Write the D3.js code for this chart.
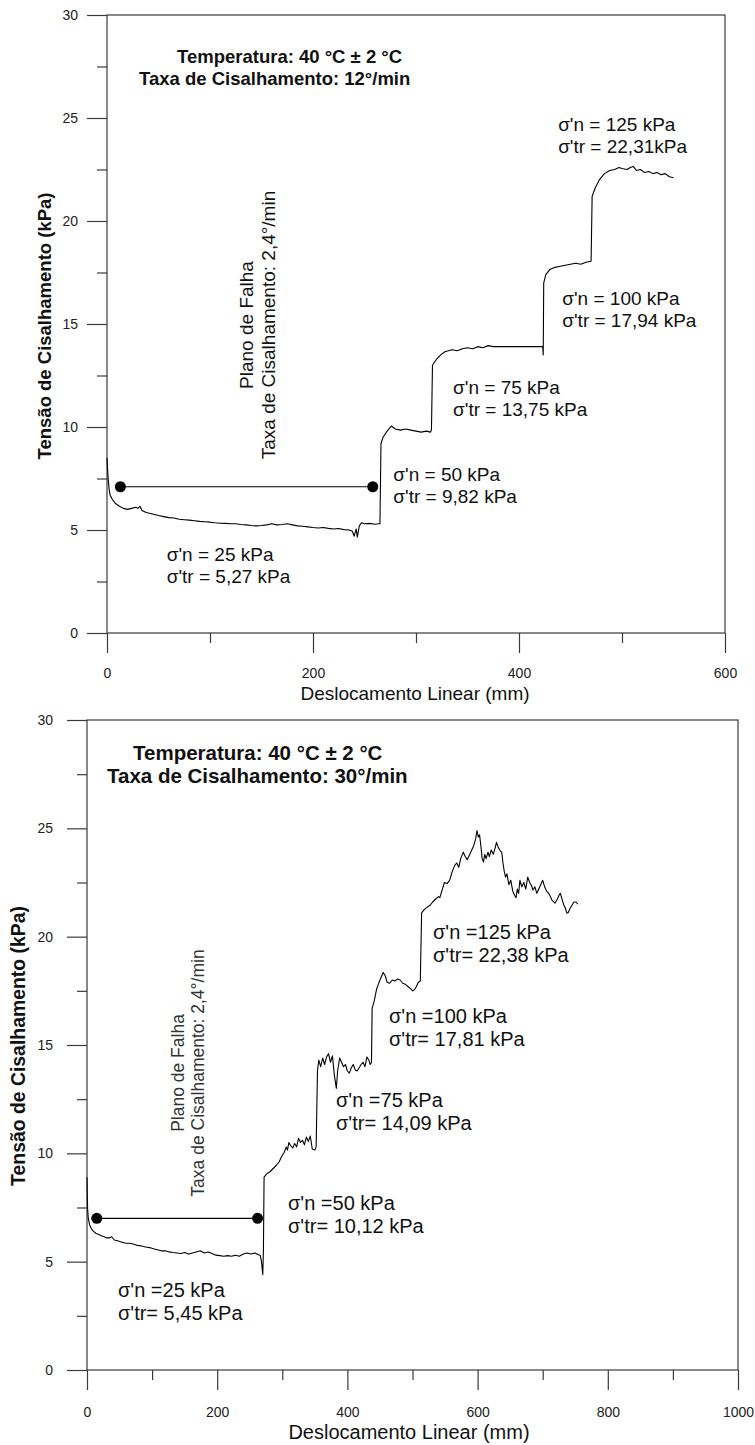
<!DOCTYPE html>
<html><head><meta charset="utf-8">
<script src="https://cdn.jsdelivr.net/npm/d3@7"></script>
<style>
body{margin:0;background:#fff}
svg{display:block}
text{font-family:Arial,"Liberation Sans",sans-serif}
</style>
</head><body>
<svg id="c" width="755" height="1445"></svg>
<script>
// ---------------- DATA ----------------
const topDisp = [0,0.5,1,2,3,5,8,12,16,20,24,28,30,32,34,38,42,46,50,55,60,65,70,75,80,85,90,95,100,105,110,115,120,125,130,135,140,145,150,155,160,165,170,175,180,185,190,195,200,205,210,215,220,225,230,235,238,240,241,242,243,245,247,250,255,260,264,265,266,268,272,276,280,285,290,295,300,305,310,314,315,316,320,324,328,335,340,345,350,355,360,365,370,375,380,400,423,423.5,424,426,430,435,440,445,450,455,460,465,470,471,474,478,483,488,493,497,500,505,508,511,514,518,522,526,530,534,538,542,546,550];
const topShear = [8.5,8.0,7.6,7.0,6.7,6.5,6.3,6.15,6.05,6.0,6.05,6.1,6.05,6.15,5.95,5.85,5.8,5.75,5.7,5.65,5.6,5.58,5.52,5.5,5.48,5.45,5.42,5.4,5.38,5.35,5.33,5.32,5.3,5.3,5.27,5.25,5.22,5.2,5.22,5.25,5.3,5.25,5.27,5.3,5.25,5.2,5.18,5.15,5.12,5.1,5.12,5.08,5.05,5.07,5.02,5.0,4.95,4.7,4.9,5.05,4.65,5.2,5.35,5.3,5.32,5.28,5.3,5.3,9.2,9.5,9.8,10.05,9.9,9.85,9.9,9.85,9.8,9.75,9.8,9.75,9.85,13.0,13.3,13.5,13.65,13.75,13.7,13.8,13.85,13.8,13.9,13.85,13.95,13.9,13.9,13.9,13.9,13.5,17.0,17.4,17.65,17.75,17.8,17.85,17.9,17.95,17.9,18.0,18.05,21.2,21.6,22.0,22.3,22.45,22.5,22.6,22.55,22.5,22.6,22.65,22.45,22.5,22.35,22.4,22.3,22.35,22.25,22.3,22.15,22.1];

const botDisp = [0,0.5,1,2,4,7,10,14,18,22,26,30,35,38,42,48,54,60,66,72,78,84,90,96,102,108,114,120,126,132,138,144,150,156,162,168,174,180,186,192,198,204,210,216,222,228,234,240,246,252,258,263,266,268,270,271,272,276,281,286,291,295,299,303,306,308,310,313,316,319,322,325,328,331,334,337,340,343,346,350,352,354,356,359,362,365,368,371,374,377,380,383,385,388,391,394,397,400,403,406,409,412,415,418,421,424,427,430,433,435,437,438,441,445,450,455,458,461,465,469,473,477,481,485,489,493,497,500,503,506,509,512,514,518,522,527,531,536,540,542,545,549,553,557,561,565,568,571,574,578,581,584,588,591,594,597,599,601,603,605,607,609,611,613,616,618,621,624,627,629,632,635,637,639,641,643,645,648,651,654,657,659,661,663,665,668,671,674,677,680,683,685,688,691,694,697,700,703,706,709,711,714,717,719,722,725,727,729,732,735,737,739,742,745,748,751,754];
const botShear = [8.9,8.0,7.4,7.0,6.7,6.5,6.4,6.3,6.25,6.2,6.15,6.1,6.1,6.15,6.0,5.95,5.9,5.85,5.85,5.8,5.75,5.72,5.68,5.65,5.6,5.55,5.5,5.5,5.45,5.42,5.4,5.38,5.42,5.35,5.4,5.45,5.5,5.4,5.45,5.38,5.3,5.28,5.25,5.28,5.25,5.3,5.25,5.35,5.4,5.35,5.4,5.32,5.3,5.0,4.4,5.5,8.9,9.05,9.15,9.3,9.45,9.6,9.85,10.05,10.3,10.15,10.5,10.35,10.25,10.45,10.3,10.7,10.5,10.6,10.4,10.75,10.55,10.8,10.2,10.15,10.3,13.8,14.3,14.0,14.4,14.1,14.45,14.6,14.2,14.5,13.6,13.0,13.8,14.4,14.2,14.0,14.1,13.8,13.7,13.95,14.1,13.85,13.8,13.95,14.1,14.2,14.0,14.45,14.3,14.1,14.2,16.7,17.0,17.6,18.0,18.35,18.2,17.9,17.85,18.0,17.95,18.05,18.0,17.85,17.8,17.7,17.6,17.5,17.55,17.7,17.9,17.95,21.1,21.25,21.35,21.45,21.6,21.75,21.85,21.8,22.1,22.5,22.45,22.6,23.0,23.3,23.4,23.2,23.6,23.9,23.7,23.55,23.8,24.0,24.2,24.5,24.9,24.6,24.7,24.2,23.6,23.45,23.8,23.6,23.9,23.7,24.0,23.8,24.1,24.35,24.1,23.95,23.9,23.4,23.0,22.75,22.9,22.4,22.6,22.1,21.9,21.8,22.2,22.0,22.6,22.3,22.5,22.2,22.75,22.5,22.35,22.15,22.3,22.0,22.2,22.4,22.6,22.3,22.1,22.0,21.9,21.7,21.6,21.55,21.7,21.9,22.0,21.8,21.5,21.3,21.1,21.1,21.3,21.45,21.6,21.6,21.5];

const yMajor = [0,5,10,15,20,25,30];
const yMinor = [2.5,7.5,12.5,17.5,22.5,27.5];
const xMajorTop = [0,200,400,600];
const xMinorTop = [100,300,500];
const xMajorBot = [0,200,400,600,800,1000];
const xMinorBot = [100,300,500,700,900];

const failTopX = [13,258], failTopY = [7.1,7.1];
const failBotX = [15,262], failBotY = [7.0,7.0];

const stressN = ["25","50","75","100","125"];
const topTr = ["5,27 kPa","9,82 kPa","13,75 kPa","17,94 kPa","22,31kPa"];
const botTr = ["5,45 kPa","10,12 kPa","14,09 kPa","17,81 kPa","22,38 kPa"];

const xTitle = "Deslocamento Linear (mm)";
const yTitle = "Tensão de Cisalhamento (kPa)";
const headTop = ["Temperatura: 40 °C ± 2 °C","Taxa de Cisalhamento: 12°/min"];
const headBot = ["Temperatura: 40 °C ± 2 °C","Taxa de Cisalhamento: 30°/min"];
const planeText = ["Plano de Falha","Taxa de Cisalhamento: 2,4°/min"];

// ---------------- LAYOUT ----------------
const svg = d3.select("#c");

function drawChart(c){
  const x = d3.scaleLinear().domain(c.xDomain).range([c.left,c.right]);
  const y = d3.scaleLinear().domain([0,30]).range([c.bottom,c.top]);
  const g = svg.append("g");
  const axisColor = "#3a3a3a";

  g.append("rect").attr("x",c.left).attr("y",c.top)
    .attr("width",c.right-c.left).attr("height",c.bottom-c.top)
    .attr("fill","none").attr("stroke",axisColor).attr("stroke-width",1.2);

  const ya = d3.axisLeft(y).tickValues(yMajor).tickSize(20).tickPadding(c.yPad).tickFormat(d3.format("d"));
  const yag = g.append("g").attr("transform",`translate(${c.left},0)`).call(ya);
  const ym = d3.axisLeft(y).tickValues(yMinor).tickSize(10).tickFormat("");
  const ymg = g.append("g").attr("transform",`translate(${c.left},0)`).call(ym);
  const xa = d3.axisBottom(x).tickValues(c.xMajor).tickSize(20).tickPadding(c.xPad).tickFormat(d3.format("d"));
  const xag = g.append("g").attr("transform",`translate(0,${c.bottom})`).call(xa);
  const xm = d3.axisBottom(x).tickValues(c.xMinor).tickSize(10).tickFormat("");
  const xmg = g.append("g").attr("transform",`translate(0,${c.bottom})`).call(xm);
  [yag,ymg,xag,xmg].forEach(a=>{
    a.select(".domain").remove();
    a.selectAll("line").attr("stroke",axisColor).attr("stroke-width",1.2);
    a.selectAll("text").attr("font-size",c.tickFont).attr("fill","#222")
      .style("font-family","Arial, 'Liberation Sans', sans-serif");
  });

  g.append("text").attr("x",c.xTitleX).attr("y",c.xTitleY).attr("text-anchor","middle")
    .attr("font-size",c.titleFont).attr("fill","#111").text(xTitle);
  g.append("text").attr("transform",`translate(${c.yTitleX},${c.yTitleY}) rotate(-90)`)
    .attr("text-anchor","middle").attr("font-size",c.yTitleFont).attr("font-weight","bold")
    .attr("fill","#111").text(yTitle);

  c.head.forEach((t,i)=>{
    g.append("text").attr("x",c.headX[i]).attr("y",c.headY[i])
      .attr("font-size",c.headFont).attr("font-weight","bold").attr("fill","#111").text(t);
  });

  planeText.forEach((t,i)=>{
    g.append("text").attr("transform",`translate(${c.planeX[i]},${c.planeY}) rotate(-90)`)
      .attr("text-anchor","middle").attr("font-size",c.planeFont).attr("fill",c.planeColor).text(t);
  });

  const fl = d3.line().x(d=>x(d[0])).y(d=>y(d[1]));
  const fpts = d3.zip(c.failX,c.failY);
  g.append("path").attr("d",fl(fpts)).attr("stroke","#000").attr("stroke-width",1.2).attr("fill","none");
  g.selectAll(".dot").data(fpts).enter().append("circle")
    .attr("cx",d=>x(d[0])).attr("cy",d=>y(d[1])).attr("r",5.5).attr("fill","#000");

  const line = d3.line().x(d=>x(d[0])).y(d=>y(d[1]));
  g.append("path").attr("d",line(d3.zip(c.disp,c.shear)))
    .attr("fill","none").attr("stroke","#000").attr("stroke-width",1.1).attr("stroke-linejoin","round");

  stressN.forEach((n,i)=>{
    const p = c.labelPos[i];
    const t = g.append("text").attr("x",x(p[0])).attr("y",y(p[1]))
      .attr("font-size",c.labelFont).attr("fill","#111");
    t.append("tspan").attr("x",x(p[0])).text(c.nPrefix + n + " kPa");
    t.append("tspan").attr("x",x(p[0])).attr("dy",c.labelGap).text(c.trPrefix + c.tr[i]);
  });
}

drawChart({
  xDomain:[0,600], left:107, right:725, top:15, bottom:633,
  xMajor:xMajorTop, xMinor:xMinorTop, yPad:9, xPad:15, tickFont:14,
  xTitleX:415, xTitleY:700, titleFont:19, yTitleX:51, yTitleY:326, yTitleFont:18.5,
  head:headTop, headX:[177,139], headY:[63,85], headFont:18.5,
  planeX:[253,275], planeY:325, planeFont:19, planeColor:"#111",
  failX:failTopX, failY:failTopY, disp:topDisp, shear:topShear,
  labelPos:[[58,3.5],[278,7.4],[336,11.6],[442,15.92],[438,24.37]],
  labelFont:19, labelGap:22, nPrefix:"σ'n = ", trPrefix:"σ'tr = ", tr:topTr
});

drawChart({
  xDomain:[0,1000], left:87, right:738, top:720, bottom:1370,
  xMajor:xMajorBot, xMinor:xMinorBot, yPad:14, xPad:17, tickFont:14,
  xTitleX:409, xTitleY:1439, titleFont:20, yTitleX:25, yTitleY:1046, yTitleFont:19.4,
  head:headBot, headX:[133,107], headY:[760,783], headFont:20.5,
  planeX:[184,204], planeY:1073, planeFont:17.5, planeColor:"#333",
  failX:failBotX, failY:failBotY, disp:botDisp, shear:botShear,
  labelPos:[[47.6,3.37],[308.8,7.38],[382.5,12.14],[463.9,16.01],[531.5,19.89]],
  labelFont:20, labelGap:23, nPrefix:"σ'n =", trPrefix:"σ'tr= ", tr:botTr
});
</script>
</body></html>
